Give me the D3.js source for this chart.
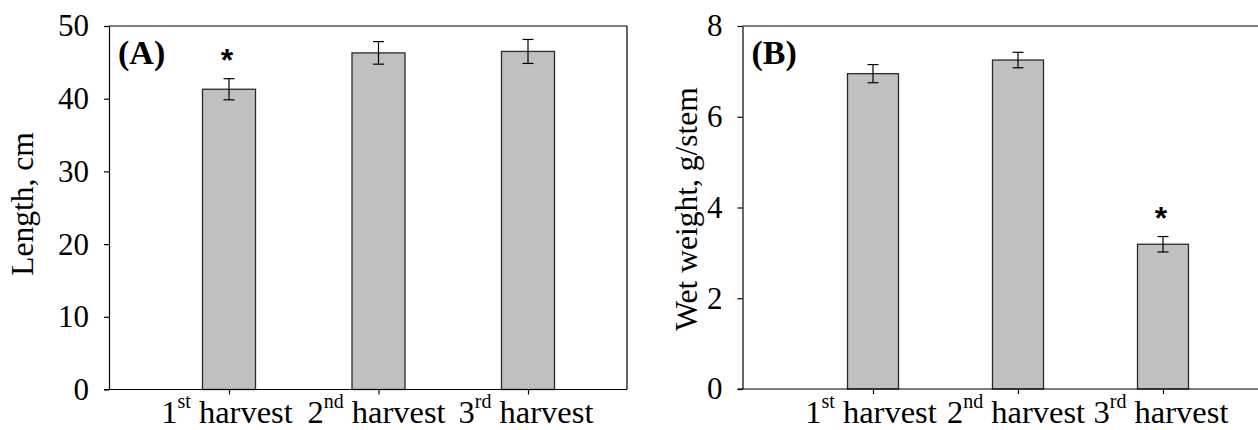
<!DOCTYPE html>
<html>
<head>
<meta charset="utf-8">
<script src="https://cdn.jsdelivr.net/npm/d3@7"></script>
<style>
  body { margin: 0; background: #fff; }
  svg { display: block; font-family: "Liberation Serif", "Times New Roman", serif; }
</style>
</head>
<body>
<script>
// datos
var ordinales = ["1", "2", "3"]
var sufijos = ["st", "nd", "rd"]
var cosechas = ["1st harvest", "2nd harvest", "3rd harvest"]

var longitud = [41.3, 46.3, 46.5]
var longitudErr = [1.45, 1.55, 1.65]
var longitudSig = [true, false, false]

var peso = [6.95, 7.25, 3.19]
var pesoErr = [0.2, 0.17, 0.17]
var pesoSig = [false, false, true]

var ticksLongitud = [0, 10, 20, 30, 40, 50]
var ticksPeso = [0, 2, 4, 6, 8]

var width = 1258
var height = 430

var svg = d3.select("body").append("svg")
  .attr("width", width)
  .attr("height", height)

function panel(cfg) {
  var m = cfg.margin
  var g = svg.append("g")

  var escalaX = d3.scalePoint()
    .domain(cosechas)
    .range([m.left + cfg.first, m.left + cfg.first + 2 * cfg.step])

  var escalaY = d3.scaleLinear()
    .domain([0, cfg.max])
    .range([m.bottom, m.top])

  var datos = cosechas.map(function (c, i) {
    return { cat: c, i: i, v: cfg.valores[i], e: cfg.errores[i], sig: cfg.sig[i] }
  })

  // marco superior y derecho
  g.append("line")
    .attr("x1", m.left).attr("x2", m.right)
    .attr("y1", m.top).attr("y2", m.top)
    .attr("stroke", "#000").attr("stroke-width", 1.2)
  g.append("line")
    .attr("x1", m.right).attr("x2", m.right)
    .attr("y1", m.top).attr("y2", m.bottom)
    .attr("stroke", "#000").attr("stroke-width", 1.2)

  // barras
  g.selectAll("rect.bar")
    .data(datos)
    .enter()
    .append("rect")
    .attr("class", "bar")
    .attr("x", d => escalaX(d.cat) - cfg.barW / 2)
    .attr("y", d => escalaY(d.v))
    .attr("width", cfg.barW)
    .attr("height", d => escalaY(0) - escalaY(d.v))
    .attr("fill", "#c0c0c0")
    .attr("stroke", "#2a2a2a")
    .attr("stroke-width", 1.3)

  // barras de error
  var err = g.selectAll("g.err")
    .data(datos)
    .enter()
    .append("g")
    .attr("class", "err")
    .attr("stroke", "#000")
    .attr("stroke-width", 1.2)
  err.append("line")
    .attr("x1", d => escalaX(d.cat)).attr("x2", d => escalaX(d.cat))
    .attr("y1", d => escalaY(d.v + d.e)).attr("y2", d => escalaY(d.v - d.e))
  err.append("line")
    .attr("x1", d => escalaX(d.cat) - 5.5).attr("x2", d => escalaX(d.cat) + 5.5)
    .attr("y1", d => escalaY(d.v + d.e)).attr("y2", d => escalaY(d.v + d.e))
  err.append("line")
    .attr("x1", d => escalaX(d.cat) - 5.5).attr("x2", d => escalaX(d.cat) + 5.5)
    .attr("y1", d => escalaY(d.v - d.e)).attr("y2", d => escalaY(d.v - d.e))

  // asteriscos
  g.selectAll("text.sig")
    .data(datos.filter(d => d.sig))
    .enter()
    .append("text")
    .attr("class", "sig")
    .attr("x", d => escalaX(d.cat) - 2)
    .attr("y", d => escalaY(d.v + d.e) - 8)
    .attr("text-anchor", "middle")
    .style("font-family", "'Liberation Sans', Arial, sans-serif")
    .style("font-weight", "bold")
    .style("font-size", "32px")
    .text("*")

  // eje Y
  var ejeY = d3.axisLeft(escalaY)
    .tickValues(cfg.ticks)
    .tickFormat(d3.format("d"))
    .tickSize(5)
    .tickSizeOuter(0)
    .tickPadding(15)
  var gy = g.append("g")
    .attr("transform", "translate(" + m.left + ",0)")
    .call(ejeY)
  gy.selectAll("path, line").attr("stroke", "#000").attr("stroke-width", 1.2)
  gy.selectAll("text")
    .style("font-family", "'Liberation Serif', 'Times New Roman', serif")
    .style("font-size", "31px")
    .attr("fill", "#000")

  // eje X
  var ejeX = d3.axisBottom(escalaX)
    .tickSize(5)
    .tickSizeOuter(0)
    .tickFormat("")
  var gx = g.append("g")
    .attr("transform", "translate(0," + m.bottom + ")")
    .call(ejeX)
  gx.select("path.domain")
    .attr("d", "M" + (m.left - 5) + ",0H" + m.right)
  gx.selectAll("path, line").attr("stroke", "#000").attr("stroke-width", 1.2)

  var etiquetas = g.selectAll("text.xlab")
    .data(datos)
    .enter()
    .append("text")
    .attr("class", "xlab")
    .attr("x", d => escalaX(d.cat) - 2)
    .attr("y", 423)
    .attr("text-anchor", "middle")
    .style("font-size", "32.5px")
  etiquetas.append("tspan").text(d => ordinales[d.i])
  etiquetas.append("tspan")
    .attr("dy", -15)
    .style("font-size", "20px")
    .text(d => sufijos[d.i])
  etiquetas.append("tspan")
    .attr("dy", 15)
    .text(" harvest")

  // etiqueta eje Y
  g.append("text")
    .attr("transform", "translate(" + cfg.titleX + "," + cfg.titleY + ") rotate(-90)")
    .attr("text-anchor", "middle")
    .style("font-size", "31.5px")
    .text(cfg.titulo)

  // letra del panel
  g.append("text")
    .attr("x", m.left + 9)
    .attr("y", m.top + 38)
    .style("font-weight", "bold")
    .style("font-size", "34px")
    .text(cfg.letra)
}

panel({
  margin: { left: 109, right: 627, top: 26, bottom: 389.5 },
  first: 120, step: 149.5, barW: 53, max: 50,
  valores: longitud, errores: longitudErr, sig: longitudSig,
  ticks: ticksLongitud, titulo: "Length, cm", titleX: 33, titleY: 204, letra: "(A)"
})

panel({
  margin: { left: 742.5, right: 1260, top: 26, bottom: 389 },
  first: 130.5, step: 145, barW: 51, max: 8,
  valores: peso, errores: pesoErr, sig: pesoSig,
  ticks: ticksPeso, titulo: "Wet weight, g/stem", titleX: 697, titleY: 209, letra: "(B)"
})
</script>
</body>
</html>
